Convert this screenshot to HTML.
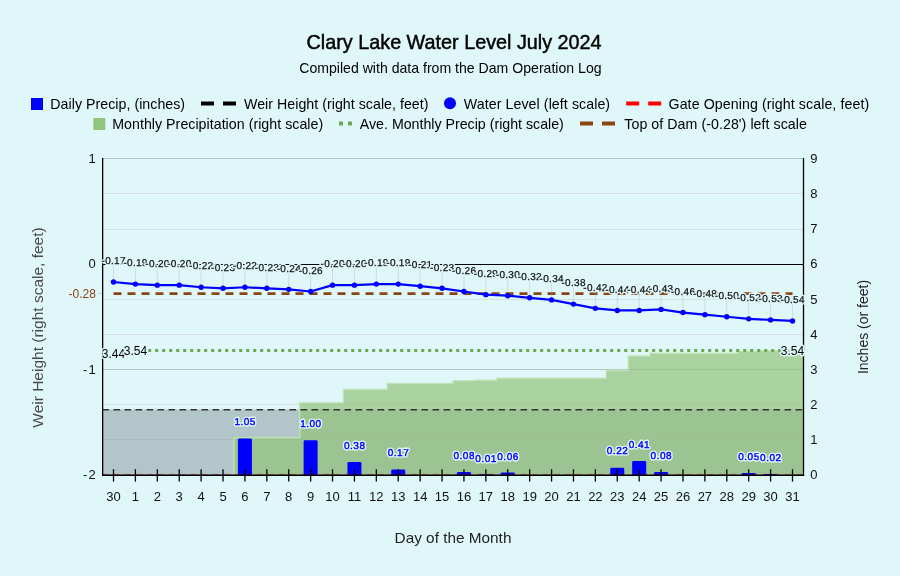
<!DOCTYPE html>
<html><head><meta charset="utf-8"><title>Clary Lake Water Level July 2024</title>
<style>html,body{margin:0;padding:0;background:#e0f7fa;}body{width:900px;height:576px;overflow:hidden;}svg{display:block;position:absolute;left:0;top:0;will-change:transform;font-family:"Liberation Sans",sans-serif;}</style>
</head><body>
<svg width="900" height="576" viewBox="0 0 900 576">
<rect x="0" y="0" width="900" height="576" fill="#e0f7fa"/>
<text x="454.1" y="48.5" text-anchor="middle" font-size="19.8" fill="#000" stroke="#000" stroke-width="0.45">Clary Lake Water Level July 2024</text>
<text x="450.4" y="72.5" text-anchor="middle" font-size="14.1" fill="#000">Compiled with data from the Dam Operation Log</text>
<rect x="31" y="98" width="12" height="12" fill="#0000ff"/>
<text x="50.3" y="108.5" font-size="14.2" fill="#000" textLength="134.8" lengthAdjust="spacing">Daily Precip, (inches)</text>
<path d="M201 103.4H214M223 103.4H236" stroke="#000" stroke-width="4" fill="none"/>
<text x="244.0" y="108.5" font-size="14.2" fill="#000" textLength="184.5" lengthAdjust="spacing">Weir Height (right scale, feet)</text>
<circle cx="450" cy="103.3" r="6" fill="#0000ff"/>
<text x="463.8" y="108.5" font-size="14.2" fill="#000" textLength="146.3" lengthAdjust="spacing">Water Level (left scale)</text>
<path d="M626.2 103.4H639.2M648.2 103.4H661.2" stroke="#ff0000" stroke-width="4" fill="none"/>
<text x="668.5" y="108.5" font-size="14.2" fill="#000" textLength="200.7" lengthAdjust="spacing">Gate Opening (right scale, feet)</text>
<rect x="93.3" y="118" width="12" height="12" fill="#93c47d"/>
<text x="112.2" y="128.5" font-size="14.2" fill="#000" textLength="211.0" lengthAdjust="spacing">Monthly Precipitation (right scale)</text>
<path d="M339 123.4H343M348 123.4H352" stroke="#6aa84f" stroke-width="4" fill="none"/>
<text x="359.8" y="128.5" font-size="14.2" fill="#000" textLength="204.0" lengthAdjust="spacing">Ave. Monthly Precip (right scale)</text>
<path d="M580 123.4H593M602 123.4H615" stroke="#8b4513" stroke-width="4" fill="none"/>
<text x="624.3" y="128.5" font-size="14.2" fill="#000" textLength="182.6" lengthAdjust="spacing">Top of Dam (-0.28') left scale</text>
<line x1="102.5" y1="474.50" x2="803.5" y2="474.50" stroke="#b0c4c8" stroke-width="1"/>
<line x1="102.5" y1="439.50" x2="803.5" y2="439.50" stroke="#d5dfe1" stroke-width="1"/>
<line x1="102.5" y1="404.50" x2="803.5" y2="404.50" stroke="#d5dfe1" stroke-width="1"/>
<line x1="102.5" y1="369.50" x2="803.5" y2="369.50" stroke="#b0c4c8" stroke-width="1"/>
<line x1="102.5" y1="334.50" x2="803.5" y2="334.50" stroke="#d5dfe1" stroke-width="1"/>
<line x1="102.5" y1="299.50" x2="803.5" y2="299.50" stroke="#d5dfe1" stroke-width="1"/>
<line x1="102.5" y1="264.50" x2="803.5" y2="264.50" stroke="#b0c4c8" stroke-width="1"/>
<line x1="102.5" y1="229.50" x2="803.5" y2="229.50" stroke="#d5dfe1" stroke-width="1"/>
<line x1="102.5" y1="193.50" x2="803.5" y2="193.50" stroke="#d5dfe1" stroke-width="1"/>
<line x1="102.5" y1="158.50" x2="803.5" y2="158.50" stroke="#b0c4c8" stroke-width="1"/>
<rect x="102.5" y="409.4" width="700.9" height="65.3" fill="#84959a" fill-opacity="0.5"/>
<path d="M102.55 474.70 L102.55 474.70 L124.45 474.70 L124.45 474.70 L146.36 474.70 L146.36 474.70 L168.26 474.70 L168.26 474.70 L190.16 474.70 L190.16 474.70 L212.07 474.70 L212.07 474.70 L233.97 474.70 L233.97 437.84 L255.87 437.84 L255.87 437.84 L277.78 437.84 L277.78 437.84 L299.68 437.84 L299.68 402.75 L321.58 402.75 L321.58 402.75 L343.48 402.75 L343.48 389.41 L365.39 389.41 L365.39 389.41 L387.29 389.41 L387.29 383.44 L409.19 383.44 L409.19 383.44 L431.10 383.44 L431.10 383.44 L453.00 383.44 L453.00 380.63 L474.90 380.63 L474.90 380.28 L496.81 380.28 L496.81 378.18 L518.71 378.18 L518.71 378.18 L540.61 378.18 L540.61 378.18 L562.52 378.18 L562.52 378.18 L584.42 378.18 L584.42 378.18 L606.32 378.18 L606.32 370.45 L628.23 370.45 L628.23 356.06 L650.13 356.06 L650.13 353.25 L672.03 353.25 L672.03 353.25 L693.93 353.25 L693.93 353.25 L715.84 353.25 L715.84 353.25 L737.74 353.25 L737.74 351.50 L759.64 351.50 L759.64 350.80 L781.55 350.80 L781.55 350.80 L803.45 350.80 L803.45 474.70 Z" fill="#93c47d" fill-opacity="0.72"/>
<path d="M233.97 474.70 L233.97 437.84 L255.87 437.84 L255.87 437.84 L277.78 437.84 L277.78 437.84 L299.68 437.84 L299.68 402.75 L321.58 402.75 L321.58 402.75 L343.48 402.75 L343.48 389.41 L365.39 389.41 L365.39 389.41 L387.29 389.41 L387.29 383.44 L409.19 383.44 L409.19 383.44 L431.10 383.44 L431.10 383.44 L453.00 383.44 L453.00 380.63 L474.90 380.63 L474.90 380.28 L496.81 380.28 L496.81 378.18 L518.71 378.18 L518.71 378.18 L540.61 378.18 L540.61 378.18 L562.52 378.18 L562.52 378.18 L584.42 378.18 L584.42 378.18 L606.32 378.18 L606.32 370.45 L628.23 370.45 L628.23 356.06 L650.13 356.06 L650.13 353.25 L672.03 353.25 L672.03 353.25 L693.93 353.25 L693.93 353.25 L715.84 353.25 L715.84 353.25 L737.74 353.25 L737.74 351.50 L759.64 351.50 L759.64 350.80 L781.55 350.80 L781.55 350.80 L803.45 350.80" fill="none" stroke="#bfe4b4" stroke-opacity="0.85" stroke-width="1.5" stroke-linejoin="round"/>
<path d="M237.92 475.20V439.84q0 -1.30 1.30 -1.30h11.40q1.30 0 1.30 1.30V475.20z" fill="#0000ff"/>
<path d="M303.63 475.20V441.60q0 -1.30 1.30 -1.30h11.40q1.30 0 1.30 1.30V475.20z" fill="#0000ff"/>
<path d="M347.44 475.20V463.36q0 -1.30 1.30 -1.30h11.40q1.30 0 1.30 1.30V475.20z" fill="#0000ff"/>
<path d="M391.24 475.20V470.73q0 -1.30 1.30 -1.30h11.40q1.30 0 1.30 1.30V475.20z" fill="#0000ff"/>
<path d="M456.95 475.20V473.19q0 -1.30 1.30 -1.30h11.40q1.30 0 1.30 1.30V475.20z" fill="#0000ff"/>
<path d="M478.85 475.20V474.52q0 -0.18 0.18 -0.18h13.65q0.18 0 0.18 0.18V475.20z" fill="#0000ff"/>
<path d="M500.76 475.20V473.65q0 -1.05 1.05 -1.05h11.89q1.05 0 1.05 1.05V475.20z" fill="#0000ff"/>
<path d="M610.27 475.20V468.98q0 -1.30 1.30 -1.30h11.40q1.30 0 1.30 1.30V475.20z" fill="#0000ff"/>
<path d="M632.18 475.20V462.31q0 -1.30 1.30 -1.30h11.40q1.30 0 1.30 1.30V475.20z" fill="#0000ff"/>
<path d="M654.08 475.20V473.19q0 -1.30 1.30 -1.30h11.40q1.30 0 1.30 1.30V475.20z" fill="#0000ff"/>
<path d="M741.69 475.20V473.82q0 -0.88 0.88 -0.88h12.25q0.88 0 0.88 0.88V475.20z" fill="#0000ff"/>
<path d="M763.60 475.20V474.35q0 -0.35 0.35 -0.35h13.30q0.35 0 0.35 0.35V475.20z" fill="#0000ff"/>
<path d="M102.95 474.35H803.45" stroke="#ff0000" stroke-opacity="0.32" stroke-width="1.2" stroke-dasharray="6 5" fill="none"/>
<path d="M102.5 409.8H803.5" stroke="#333" stroke-width="1.6" stroke-dasharray="6.6 4.4" fill="none"/>
<line x1="102.5" y1="264.5" x2="803.5" y2="264.5" stroke="#000" stroke-width="1"/>
<path d="M113.50 293.7H792.50" stroke="#8b4513" stroke-width="2.8" stroke-dasharray="8 6" fill="none"/>
<path d="M113.50 353.96 L135.40 350.45 L792.50 350.45" stroke="#6aa84f" stroke-width="3" stroke-dasharray="3 4" fill="none"/>
<line x1="113.50" y1="282.00" x2="113.50" y2="265.00" stroke="#999" stroke-opacity="0.28" stroke-width="1"/>
<line x1="135.40" y1="284.11" x2="135.40" y2="267.11" stroke="#999" stroke-opacity="0.28" stroke-width="1"/>
<line x1="157.31" y1="285.16" x2="157.31" y2="268.16" stroke="#999" stroke-opacity="0.28" stroke-width="1"/>
<line x1="179.21" y1="285.16" x2="179.21" y2="268.16" stroke="#999" stroke-opacity="0.28" stroke-width="1"/>
<line x1="201.11" y1="287.27" x2="201.11" y2="270.27" stroke="#999" stroke-opacity="0.28" stroke-width="1"/>
<line x1="223.02" y1="288.32" x2="223.02" y2="271.32" stroke="#999" stroke-opacity="0.28" stroke-width="1"/>
<line x1="244.92" y1="287.27" x2="244.92" y2="270.27" stroke="#999" stroke-opacity="0.28" stroke-width="1"/>
<line x1="266.82" y1="288.32" x2="266.82" y2="271.32" stroke="#999" stroke-opacity="0.28" stroke-width="1"/>
<line x1="288.73" y1="289.37" x2="288.73" y2="272.37" stroke="#999" stroke-opacity="0.28" stroke-width="1"/>
<line x1="310.63" y1="291.48" x2="310.63" y2="274.48" stroke="#999" stroke-opacity="0.28" stroke-width="1"/>
<line x1="332.53" y1="285.16" x2="332.53" y2="268.16" stroke="#999" stroke-opacity="0.28" stroke-width="1"/>
<line x1="354.44" y1="285.16" x2="354.44" y2="268.16" stroke="#999" stroke-opacity="0.28" stroke-width="1"/>
<line x1="376.34" y1="284.11" x2="376.34" y2="267.11" stroke="#999" stroke-opacity="0.28" stroke-width="1"/>
<line x1="398.24" y1="284.11" x2="398.24" y2="267.11" stroke="#999" stroke-opacity="0.28" stroke-width="1"/>
<line x1="420.15" y1="286.21" x2="420.15" y2="269.21" stroke="#999" stroke-opacity="0.28" stroke-width="1"/>
<line x1="442.05" y1="288.32" x2="442.05" y2="271.32" stroke="#999" stroke-opacity="0.28" stroke-width="1"/>
<line x1="463.95" y1="291.48" x2="463.95" y2="274.48" stroke="#999" stroke-opacity="0.28" stroke-width="1"/>
<line x1="485.85" y1="294.64" x2="485.85" y2="277.64" stroke="#999" stroke-opacity="0.28" stroke-width="1"/>
<line x1="507.76" y1="295.69" x2="507.76" y2="278.69" stroke="#999" stroke-opacity="0.28" stroke-width="1"/>
<line x1="529.66" y1="297.80" x2="529.66" y2="280.80" stroke="#999" stroke-opacity="0.28" stroke-width="1"/>
<line x1="551.56" y1="299.90" x2="551.56" y2="282.90" stroke="#999" stroke-opacity="0.28" stroke-width="1"/>
<line x1="573.47" y1="304.11" x2="573.47" y2="287.11" stroke="#999" stroke-opacity="0.28" stroke-width="1"/>
<line x1="595.37" y1="308.33" x2="595.37" y2="291.33" stroke="#999" stroke-opacity="0.28" stroke-width="1"/>
<line x1="617.27" y1="310.43" x2="617.27" y2="293.43" stroke="#999" stroke-opacity="0.28" stroke-width="1"/>
<line x1="639.18" y1="310.43" x2="639.18" y2="293.43" stroke="#999" stroke-opacity="0.28" stroke-width="1"/>
<line x1="661.08" y1="309.38" x2="661.08" y2="292.38" stroke="#999" stroke-opacity="0.28" stroke-width="1"/>
<line x1="682.98" y1="312.54" x2="682.98" y2="295.54" stroke="#999" stroke-opacity="0.28" stroke-width="1"/>
<line x1="704.89" y1="314.64" x2="704.89" y2="297.64" stroke="#999" stroke-opacity="0.28" stroke-width="1"/>
<line x1="726.79" y1="316.75" x2="726.79" y2="299.75" stroke="#999" stroke-opacity="0.28" stroke-width="1"/>
<line x1="748.69" y1="318.86" x2="748.69" y2="301.86" stroke="#999" stroke-opacity="0.28" stroke-width="1"/>
<line x1="770.60" y1="319.91" x2="770.60" y2="302.91" stroke="#999" stroke-opacity="0.28" stroke-width="1"/>
<line x1="792.50" y1="320.96" x2="792.50" y2="303.96" stroke="#999" stroke-opacity="0.28" stroke-width="1"/>
<polyline points="113.50,282.00 135.40,284.11 157.31,285.16 179.21,285.16 201.11,287.27 223.02,288.32 244.92,287.27 266.82,288.32 288.73,289.37 310.63,291.48 332.53,285.16 354.44,285.16 376.34,284.11 398.24,284.11 420.15,286.21 442.05,288.32 463.95,291.48 485.85,294.64 507.76,295.69 529.66,297.80 551.56,299.90 573.47,304.11 595.37,308.33 617.27,310.43 639.18,310.43 661.08,309.38 682.98,312.54 704.89,314.64 726.79,316.75 748.69,318.86 770.60,319.91 792.50,320.96" fill="none" stroke="#0000ff" stroke-width="2.2" stroke-linejoin="round"/>
<circle cx="113.50" cy="282.00" r="2.7" fill="#0000ff"/>
<circle cx="135.40" cy="284.11" r="2.7" fill="#0000ff"/>
<circle cx="157.31" cy="285.16" r="2.7" fill="#0000ff"/>
<circle cx="179.21" cy="285.16" r="2.7" fill="#0000ff"/>
<circle cx="201.11" cy="287.27" r="2.7" fill="#0000ff"/>
<circle cx="223.02" cy="288.32" r="2.7" fill="#0000ff"/>
<circle cx="244.92" cy="287.27" r="2.7" fill="#0000ff"/>
<circle cx="266.82" cy="288.32" r="2.7" fill="#0000ff"/>
<circle cx="288.73" cy="289.37" r="2.7" fill="#0000ff"/>
<circle cx="310.63" cy="291.48" r="2.7" fill="#0000ff"/>
<circle cx="332.53" cy="285.16" r="2.7" fill="#0000ff"/>
<circle cx="354.44" cy="285.16" r="2.7" fill="#0000ff"/>
<circle cx="376.34" cy="284.11" r="2.7" fill="#0000ff"/>
<circle cx="398.24" cy="284.11" r="2.7" fill="#0000ff"/>
<circle cx="420.15" cy="286.21" r="2.7" fill="#0000ff"/>
<circle cx="442.05" cy="288.32" r="2.7" fill="#0000ff"/>
<circle cx="463.95" cy="291.48" r="2.7" fill="#0000ff"/>
<circle cx="485.85" cy="294.64" r="2.7" fill="#0000ff"/>
<circle cx="507.76" cy="295.69" r="2.7" fill="#0000ff"/>
<circle cx="529.66" cy="297.80" r="2.7" fill="#0000ff"/>
<circle cx="551.56" cy="299.90" r="2.7" fill="#0000ff"/>
<circle cx="573.47" cy="304.11" r="2.7" fill="#0000ff"/>
<circle cx="595.37" cy="308.33" r="2.7" fill="#0000ff"/>
<circle cx="617.27" cy="310.43" r="2.7" fill="#0000ff"/>
<circle cx="639.18" cy="310.43" r="2.7" fill="#0000ff"/>
<circle cx="661.08" cy="309.38" r="2.7" fill="#0000ff"/>
<circle cx="682.98" cy="312.54" r="2.7" fill="#0000ff"/>
<circle cx="704.89" cy="314.64" r="2.7" fill="#0000ff"/>
<circle cx="726.79" cy="316.75" r="2.7" fill="#0000ff"/>
<circle cx="748.69" cy="318.86" r="2.7" fill="#0000ff"/>
<circle cx="770.60" cy="319.91" r="2.7" fill="#0000ff"/>
<circle cx="792.50" cy="320.96" r="2.7" fill="#0000ff"/>
<line x1="102.65" y1="158.00" x2="102.65" y2="475.90" stroke="#000" stroke-width="1.3"/>
<line x1="803.50" y1="158.00" x2="803.50" y2="475.90" stroke="#000" stroke-width="1.3"/>
<line x1="102.00" y1="475.25" x2="804.15" y2="475.25" stroke="#000" stroke-width="1.3"/>
<line x1="113.50" y1="469.2" x2="113.50" y2="481.6" stroke="#000" stroke-width="1.3"/>
<line x1="135.40" y1="469.2" x2="135.40" y2="481.6" stroke="#000" stroke-width="1.3"/>
<line x1="157.31" y1="469.2" x2="157.31" y2="481.6" stroke="#000" stroke-width="1.3"/>
<line x1="179.21" y1="469.2" x2="179.21" y2="481.6" stroke="#000" stroke-width="1.3"/>
<line x1="201.11" y1="469.2" x2="201.11" y2="481.6" stroke="#000" stroke-width="1.3"/>
<line x1="223.02" y1="469.2" x2="223.02" y2="481.6" stroke="#000" stroke-width="1.3"/>
<line x1="244.92" y1="469.2" x2="244.92" y2="481.6" stroke="#000" stroke-width="1.3"/>
<line x1="266.82" y1="469.2" x2="266.82" y2="481.6" stroke="#000" stroke-width="1.3"/>
<line x1="288.73" y1="469.2" x2="288.73" y2="481.6" stroke="#000" stroke-width="1.3"/>
<line x1="310.63" y1="469.2" x2="310.63" y2="481.6" stroke="#000" stroke-width="1.3"/>
<line x1="332.53" y1="469.2" x2="332.53" y2="481.6" stroke="#000" stroke-width="1.3"/>
<line x1="354.44" y1="469.2" x2="354.44" y2="481.6" stroke="#000" stroke-width="1.3"/>
<line x1="376.34" y1="469.2" x2="376.34" y2="481.6" stroke="#000" stroke-width="1.3"/>
<line x1="398.24" y1="469.2" x2="398.24" y2="481.6" stroke="#000" stroke-width="1.3"/>
<line x1="420.15" y1="469.2" x2="420.15" y2="481.6" stroke="#000" stroke-width="1.3"/>
<line x1="442.05" y1="469.2" x2="442.05" y2="481.6" stroke="#000" stroke-width="1.3"/>
<line x1="463.95" y1="469.2" x2="463.95" y2="481.6" stroke="#000" stroke-width="1.3"/>
<line x1="485.85" y1="469.2" x2="485.85" y2="481.6" stroke="#000" stroke-width="1.3"/>
<line x1="507.76" y1="469.2" x2="507.76" y2="481.6" stroke="#000" stroke-width="1.3"/>
<line x1="529.66" y1="469.2" x2="529.66" y2="481.6" stroke="#000" stroke-width="1.3"/>
<line x1="551.56" y1="469.2" x2="551.56" y2="481.6" stroke="#000" stroke-width="1.3"/>
<line x1="573.47" y1="469.2" x2="573.47" y2="481.6" stroke="#000" stroke-width="1.3"/>
<line x1="595.37" y1="469.2" x2="595.37" y2="481.6" stroke="#000" stroke-width="1.3"/>
<line x1="617.27" y1="469.2" x2="617.27" y2="481.6" stroke="#000" stroke-width="1.3"/>
<line x1="639.18" y1="469.2" x2="639.18" y2="481.6" stroke="#000" stroke-width="1.3"/>
<line x1="661.08" y1="469.2" x2="661.08" y2="481.6" stroke="#000" stroke-width="1.3"/>
<line x1="682.98" y1="469.2" x2="682.98" y2="481.6" stroke="#000" stroke-width="1.3"/>
<line x1="704.89" y1="469.2" x2="704.89" y2="481.6" stroke="#000" stroke-width="1.3"/>
<line x1="726.79" y1="469.2" x2="726.79" y2="481.6" stroke="#000" stroke-width="1.3"/>
<line x1="748.69" y1="469.2" x2="748.69" y2="481.6" stroke="#000" stroke-width="1.3"/>
<line x1="770.60" y1="469.2" x2="770.60" y2="481.6" stroke="#000" stroke-width="1.3"/>
<line x1="792.50" y1="469.2" x2="792.50" y2="481.6" stroke="#000" stroke-width="1.3"/>
<text transform="translate(113.50,264.00) rotate(0.05)" text-anchor="middle" font-size="10" font-weight="normal" textLength="24" lengthAdjust="spacing" fill="none" stroke="#e0f7fa" stroke-width="3" stroke-linejoin="round">-0.17</text>
<text transform="translate(113.50,264.00) rotate(0.05)" text-anchor="middle" font-size="10" font-weight="normal" textLength="24" lengthAdjust="spacing" fill="#111" stroke="#111" stroke-width="0.25">-0.17</text>
<text transform="translate(135.40,266.00) rotate(0.05)" text-anchor="middle" font-size="10" font-weight="normal" textLength="24" lengthAdjust="spacing" fill="none" stroke="#e0f7fa" stroke-width="3" stroke-linejoin="round">-0.19</text>
<text transform="translate(135.40,266.00) rotate(0.05)" text-anchor="middle" font-size="10" font-weight="normal" textLength="24" lengthAdjust="spacing" fill="#111" stroke="#111" stroke-width="0.25">-0.19</text>
<text transform="translate(157.31,267.00) rotate(0.05)" text-anchor="middle" font-size="10" font-weight="normal" textLength="24" lengthAdjust="spacing" fill="none" stroke="#e0f7fa" stroke-width="3" stroke-linejoin="round">-0.20</text>
<text transform="translate(157.31,267.00) rotate(0.05)" text-anchor="middle" font-size="10" font-weight="normal" textLength="24" lengthAdjust="spacing" fill="#111" stroke="#111" stroke-width="0.25">-0.20</text>
<text transform="translate(179.21,267.00) rotate(0.05)" text-anchor="middle" font-size="10" font-weight="normal" textLength="24" lengthAdjust="spacing" fill="none" stroke="#e0f7fa" stroke-width="3" stroke-linejoin="round">-0.20</text>
<text transform="translate(179.21,267.00) rotate(0.05)" text-anchor="middle" font-size="10" font-weight="normal" textLength="24" lengthAdjust="spacing" fill="#111" stroke="#111" stroke-width="0.25">-0.20</text>
<text transform="translate(201.11,269.00) rotate(0.05)" text-anchor="middle" font-size="10" font-weight="normal" textLength="24" lengthAdjust="spacing" fill="none" stroke="#e0f7fa" stroke-width="3" stroke-linejoin="round">-0.22</text>
<text transform="translate(201.11,269.00) rotate(0.05)" text-anchor="middle" font-size="10" font-weight="normal" textLength="24" lengthAdjust="spacing" fill="#111" stroke="#111" stroke-width="0.25">-0.22</text>
<text transform="translate(223.02,271.00) rotate(0.05)" text-anchor="middle" font-size="10" font-weight="normal" textLength="24" lengthAdjust="spacing" fill="none" stroke="#e0f7fa" stroke-width="3" stroke-linejoin="round">-0.23</text>
<text transform="translate(223.02,271.00) rotate(0.05)" text-anchor="middle" font-size="10" font-weight="normal" textLength="24" lengthAdjust="spacing" fill="#111" stroke="#111" stroke-width="0.25">-0.23</text>
<text transform="translate(244.92,269.00) rotate(0.05)" text-anchor="middle" font-size="10" font-weight="normal" textLength="24" lengthAdjust="spacing" fill="none" stroke="#e0f7fa" stroke-width="3" stroke-linejoin="round">-0.22</text>
<text transform="translate(244.92,269.00) rotate(0.05)" text-anchor="middle" font-size="10" font-weight="normal" textLength="24" lengthAdjust="spacing" fill="#111" stroke="#111" stroke-width="0.25">-0.22</text>
<text transform="translate(266.82,271.00) rotate(0.05)" text-anchor="middle" font-size="10" font-weight="normal" textLength="24" lengthAdjust="spacing" fill="none" stroke="#e0f7fa" stroke-width="3" stroke-linejoin="round">-0.23</text>
<text transform="translate(266.82,271.00) rotate(0.05)" text-anchor="middle" font-size="10" font-weight="normal" textLength="24" lengthAdjust="spacing" fill="#111" stroke="#111" stroke-width="0.25">-0.23</text>
<text transform="translate(288.73,272.00) rotate(0.05)" text-anchor="middle" font-size="10" font-weight="normal" textLength="24" lengthAdjust="spacing" fill="none" stroke="#e0f7fa" stroke-width="3" stroke-linejoin="round">-0.24</text>
<text transform="translate(288.73,272.00) rotate(0.05)" text-anchor="middle" font-size="10" font-weight="normal" textLength="24" lengthAdjust="spacing" fill="#111" stroke="#111" stroke-width="0.25">-0.24</text>
<text transform="translate(310.63,274.00) rotate(0.05)" text-anchor="middle" font-size="10" font-weight="normal" textLength="24" lengthAdjust="spacing" fill="none" stroke="#e0f7fa" stroke-width="3" stroke-linejoin="round">-0.26</text>
<text transform="translate(310.63,274.00) rotate(0.05)" text-anchor="middle" font-size="10" font-weight="normal" textLength="24" lengthAdjust="spacing" fill="#111" stroke="#111" stroke-width="0.25">-0.26</text>
<text transform="translate(332.53,267.00) rotate(0.05)" text-anchor="middle" font-size="10" font-weight="normal" textLength="24" lengthAdjust="spacing" fill="none" stroke="#e0f7fa" stroke-width="3" stroke-linejoin="round">-0.20</text>
<text transform="translate(332.53,267.00) rotate(0.05)" text-anchor="middle" font-size="10" font-weight="normal" textLength="24" lengthAdjust="spacing" fill="#111" stroke="#111" stroke-width="0.25">-0.20</text>
<text transform="translate(354.44,267.00) rotate(0.05)" text-anchor="middle" font-size="10" font-weight="normal" textLength="24" lengthAdjust="spacing" fill="none" stroke="#e0f7fa" stroke-width="3" stroke-linejoin="round">-0.20</text>
<text transform="translate(354.44,267.00) rotate(0.05)" text-anchor="middle" font-size="10" font-weight="normal" textLength="24" lengthAdjust="spacing" fill="#111" stroke="#111" stroke-width="0.25">-0.20</text>
<text transform="translate(376.34,266.00) rotate(0.05)" text-anchor="middle" font-size="10" font-weight="normal" textLength="24" lengthAdjust="spacing" fill="none" stroke="#e0f7fa" stroke-width="3" stroke-linejoin="round">-0.19</text>
<text transform="translate(376.34,266.00) rotate(0.05)" text-anchor="middle" font-size="10" font-weight="normal" textLength="24" lengthAdjust="spacing" fill="#111" stroke="#111" stroke-width="0.25">-0.19</text>
<text transform="translate(398.24,266.00) rotate(0.05)" text-anchor="middle" font-size="10" font-weight="normal" textLength="24" lengthAdjust="spacing" fill="none" stroke="#e0f7fa" stroke-width="3" stroke-linejoin="round">-0.19</text>
<text transform="translate(398.24,266.00) rotate(0.05)" text-anchor="middle" font-size="10" font-weight="normal" textLength="24" lengthAdjust="spacing" fill="#111" stroke="#111" stroke-width="0.25">-0.19</text>
<text transform="translate(420.15,268.00) rotate(0.05)" text-anchor="middle" font-size="10" font-weight="normal" textLength="24" lengthAdjust="spacing" fill="none" stroke="#e0f7fa" stroke-width="3" stroke-linejoin="round">-0.21</text>
<text transform="translate(420.15,268.00) rotate(0.05)" text-anchor="middle" font-size="10" font-weight="normal" textLength="24" lengthAdjust="spacing" fill="#111" stroke="#111" stroke-width="0.25">-0.21</text>
<text transform="translate(442.05,271.00) rotate(0.05)" text-anchor="middle" font-size="10" font-weight="normal" textLength="24" lengthAdjust="spacing" fill="none" stroke="#e0f7fa" stroke-width="3" stroke-linejoin="round">-0.23</text>
<text transform="translate(442.05,271.00) rotate(0.05)" text-anchor="middle" font-size="10" font-weight="normal" textLength="24" lengthAdjust="spacing" fill="#111" stroke="#111" stroke-width="0.25">-0.23</text>
<text transform="translate(463.95,274.00) rotate(0.05)" text-anchor="middle" font-size="10" font-weight="normal" textLength="24" lengthAdjust="spacing" fill="none" stroke="#e0f7fa" stroke-width="3" stroke-linejoin="round">-0.26</text>
<text transform="translate(463.95,274.00) rotate(0.05)" text-anchor="middle" font-size="10" font-weight="normal" textLength="24" lengthAdjust="spacing" fill="#111" stroke="#111" stroke-width="0.25">-0.26</text>
<text transform="translate(485.85,277.00) rotate(0.05)" text-anchor="middle" font-size="10" font-weight="normal" textLength="24" lengthAdjust="spacing" fill="none" stroke="#e0f7fa" stroke-width="3" stroke-linejoin="round">-0.29</text>
<text transform="translate(485.85,277.00) rotate(0.05)" text-anchor="middle" font-size="10" font-weight="normal" textLength="24" lengthAdjust="spacing" fill="#111" stroke="#111" stroke-width="0.25">-0.29</text>
<text transform="translate(507.76,278.00) rotate(0.05)" text-anchor="middle" font-size="10" font-weight="normal" textLength="24" lengthAdjust="spacing" fill="none" stroke="#e0f7fa" stroke-width="3" stroke-linejoin="round">-0.30</text>
<text transform="translate(507.76,278.00) rotate(0.05)" text-anchor="middle" font-size="10" font-weight="normal" textLength="24" lengthAdjust="spacing" fill="#111" stroke="#111" stroke-width="0.25">-0.30</text>
<text transform="translate(529.66,280.00) rotate(0.05)" text-anchor="middle" font-size="10" font-weight="normal" textLength="24" lengthAdjust="spacing" fill="none" stroke="#e0f7fa" stroke-width="3" stroke-linejoin="round">-0.32</text>
<text transform="translate(529.66,280.00) rotate(0.05)" text-anchor="middle" font-size="10" font-weight="normal" textLength="24" lengthAdjust="spacing" fill="#111" stroke="#111" stroke-width="0.25">-0.32</text>
<text transform="translate(551.56,282.00) rotate(0.05)" text-anchor="middle" font-size="10" font-weight="normal" textLength="24" lengthAdjust="spacing" fill="none" stroke="#e0f7fa" stroke-width="3" stroke-linejoin="round">-0.34</text>
<text transform="translate(551.56,282.00) rotate(0.05)" text-anchor="middle" font-size="10" font-weight="normal" textLength="24" lengthAdjust="spacing" fill="#111" stroke="#111" stroke-width="0.25">-0.34</text>
<text transform="translate(573.47,286.00) rotate(0.05)" text-anchor="middle" font-size="10" font-weight="normal" textLength="24" lengthAdjust="spacing" fill="none" stroke="#e0f7fa" stroke-width="3" stroke-linejoin="round">-0.38</text>
<text transform="translate(573.47,286.00) rotate(0.05)" text-anchor="middle" font-size="10" font-weight="normal" textLength="24" lengthAdjust="spacing" fill="#111" stroke="#111" stroke-width="0.25">-0.38</text>
<text transform="translate(595.37,291.00) rotate(0.05)" text-anchor="middle" font-size="10" font-weight="normal" textLength="24" lengthAdjust="spacing" fill="none" stroke="#e0f7fa" stroke-width="3" stroke-linejoin="round">-0.42</text>
<text transform="translate(595.37,291.00) rotate(0.05)" text-anchor="middle" font-size="10" font-weight="normal" textLength="24" lengthAdjust="spacing" fill="#111" stroke="#111" stroke-width="0.25">-0.42</text>
<text transform="translate(617.27,293.00) rotate(0.05)" text-anchor="middle" font-size="10" font-weight="normal" textLength="24" lengthAdjust="spacing" fill="none" stroke="#e0f7fa" stroke-width="3" stroke-linejoin="round">-0.44</text>
<text transform="translate(617.27,293.00) rotate(0.05)" text-anchor="middle" font-size="10" font-weight="normal" textLength="24" lengthAdjust="spacing" fill="#111" stroke="#111" stroke-width="0.25">-0.44</text>
<text transform="translate(639.18,293.00) rotate(0.05)" text-anchor="middle" font-size="10" font-weight="normal" textLength="24" lengthAdjust="spacing" fill="none" stroke="#e0f7fa" stroke-width="3" stroke-linejoin="round">-0.44</text>
<text transform="translate(639.18,293.00) rotate(0.05)" text-anchor="middle" font-size="10" font-weight="normal" textLength="24" lengthAdjust="spacing" fill="#111" stroke="#111" stroke-width="0.25">-0.44</text>
<text transform="translate(661.08,292.00) rotate(0.05)" text-anchor="middle" font-size="10" font-weight="normal" textLength="24" lengthAdjust="spacing" fill="none" stroke="#e0f7fa" stroke-width="3" stroke-linejoin="round">-0.43</text>
<text transform="translate(661.08,292.00) rotate(0.05)" text-anchor="middle" font-size="10" font-weight="normal" textLength="24" lengthAdjust="spacing" fill="#111" stroke="#111" stroke-width="0.25">-0.43</text>
<text transform="translate(682.98,295.00) rotate(0.05)" text-anchor="middle" font-size="10" font-weight="normal" textLength="24" lengthAdjust="spacing" fill="none" stroke="#e0f7fa" stroke-width="3" stroke-linejoin="round">-0.46</text>
<text transform="translate(682.98,295.00) rotate(0.05)" text-anchor="middle" font-size="10" font-weight="normal" textLength="24" lengthAdjust="spacing" fill="#111" stroke="#111" stroke-width="0.25">-0.46</text>
<text transform="translate(704.89,297.00) rotate(0.05)" text-anchor="middle" font-size="10" font-weight="normal" textLength="24" lengthAdjust="spacing" fill="none" stroke="#e0f7fa" stroke-width="3" stroke-linejoin="round">-0.48</text>
<text transform="translate(704.89,297.00) rotate(0.05)" text-anchor="middle" font-size="10" font-weight="normal" textLength="24" lengthAdjust="spacing" fill="#111" stroke="#111" stroke-width="0.25">-0.48</text>
<text transform="translate(726.79,299.00) rotate(0.05)" text-anchor="middle" font-size="10" font-weight="normal" textLength="24" lengthAdjust="spacing" fill="none" stroke="#e0f7fa" stroke-width="3" stroke-linejoin="round">-0.50</text>
<text transform="translate(726.79,299.00) rotate(0.05)" text-anchor="middle" font-size="10" font-weight="normal" textLength="24" lengthAdjust="spacing" fill="#111" stroke="#111" stroke-width="0.25">-0.50</text>
<text transform="translate(748.69,301.00) rotate(0.05)" text-anchor="middle" font-size="10" font-weight="normal" textLength="24" lengthAdjust="spacing" fill="none" stroke="#e0f7fa" stroke-width="3" stroke-linejoin="round">-0.52</text>
<text transform="translate(748.69,301.00) rotate(0.05)" text-anchor="middle" font-size="10" font-weight="normal" textLength="24" lengthAdjust="spacing" fill="#111" stroke="#111" stroke-width="0.25">-0.52</text>
<text transform="translate(770.60,302.00) rotate(0.05)" text-anchor="middle" font-size="10" font-weight="normal" textLength="24" lengthAdjust="spacing" fill="none" stroke="#e0f7fa" stroke-width="3" stroke-linejoin="round">-0.53</text>
<text transform="translate(770.60,302.00) rotate(0.05)" text-anchor="middle" font-size="10" font-weight="normal" textLength="24" lengthAdjust="spacing" fill="#111" stroke="#111" stroke-width="0.25">-0.53</text>
<text transform="translate(792.50,303.00) rotate(0.05)" text-anchor="middle" font-size="10" font-weight="normal" textLength="24" lengthAdjust="spacing" fill="none" stroke="#e0f7fa" stroke-width="3" stroke-linejoin="round">-0.54</text>
<text transform="translate(792.50,303.00) rotate(0.05)" text-anchor="middle" font-size="10" font-weight="normal" textLength="24" lengthAdjust="spacing" fill="#111" stroke="#111" stroke-width="0.25">-0.54</text>
<text transform="translate(113.50,358.36)" text-anchor="middle" font-size="12" font-weight="normal" fill="none" stroke="#e0f7fa" stroke-width="3" stroke-linejoin="round">3.44</text>
<text transform="translate(113.50,358.36)" text-anchor="middle" font-size="12" font-weight="normal" fill="#000">3.44</text>
<text transform="translate(135.40,354.85)" text-anchor="middle" font-size="12" font-weight="normal" fill="none" stroke="#e0f7fa" stroke-width="3" stroke-linejoin="round">3.54</text>
<text transform="translate(135.40,354.85)" text-anchor="middle" font-size="12" font-weight="normal" fill="#000">3.54</text>
<text transform="translate(792.50,354.85)" text-anchor="middle" font-size="12" font-weight="normal" fill="none" stroke="#e0f7fa" stroke-width="3" stroke-linejoin="round">3.54</text>
<text transform="translate(792.50,354.85)" text-anchor="middle" font-size="12" font-weight="normal" fill="#000">3.54</text>
<text transform="translate(244.92,425.00) rotate(0.05)" text-anchor="middle" font-size="10" font-weight="normal" textLength="21" lengthAdjust="spacing" fill="none" stroke="#e0f7fa" stroke-width="3.2" stroke-linejoin="round">1.05</text>
<text transform="translate(244.92,425.00) rotate(0.05)" text-anchor="middle" font-size="10" font-weight="normal" textLength="21" lengthAdjust="spacing" fill="#0000ff" stroke="#0000ff" stroke-width="0.42">1.05</text>
<text transform="translate(310.63,427.00) rotate(0.05)" text-anchor="middle" font-size="10" font-weight="normal" textLength="21" lengthAdjust="spacing" fill="none" stroke="#e0f7fa" stroke-width="3.2" stroke-linejoin="round">1.00</text>
<text transform="translate(310.63,427.00) rotate(0.05)" text-anchor="middle" font-size="10" font-weight="normal" textLength="21" lengthAdjust="spacing" fill="#0000ff" stroke="#0000ff" stroke-width="0.42">1.00</text>
<text transform="translate(354.44,449.00) rotate(0.05)" text-anchor="middle" font-size="10" font-weight="normal" textLength="21" lengthAdjust="spacing" fill="none" stroke="#e0f7fa" stroke-width="3.2" stroke-linejoin="round">0.38</text>
<text transform="translate(354.44,449.00) rotate(0.05)" text-anchor="middle" font-size="10" font-weight="normal" textLength="21" lengthAdjust="spacing" fill="#0000ff" stroke="#0000ff" stroke-width="0.42">0.38</text>
<text transform="translate(398.24,456.00) rotate(0.05)" text-anchor="middle" font-size="10" font-weight="normal" textLength="21" lengthAdjust="spacing" fill="none" stroke="#e0f7fa" stroke-width="3.2" stroke-linejoin="round">0.17</text>
<text transform="translate(398.24,456.00) rotate(0.05)" text-anchor="middle" font-size="10" font-weight="normal" textLength="21" lengthAdjust="spacing" fill="#0000ff" stroke="#0000ff" stroke-width="0.42">0.17</text>
<text transform="translate(463.95,459.00) rotate(0.05)" text-anchor="middle" font-size="10" font-weight="normal" textLength="21" lengthAdjust="spacing" fill="none" stroke="#e0f7fa" stroke-width="3.2" stroke-linejoin="round">0.08</text>
<text transform="translate(463.95,459.00) rotate(0.05)" text-anchor="middle" font-size="10" font-weight="normal" textLength="21" lengthAdjust="spacing" fill="#0000ff" stroke="#0000ff" stroke-width="0.42">0.08</text>
<text transform="translate(485.85,462.00) rotate(0.05)" text-anchor="middle" font-size="10" font-weight="normal" textLength="21" lengthAdjust="spacing" fill="none" stroke="#e0f7fa" stroke-width="3.2" stroke-linejoin="round">0.01</text>
<text transform="translate(485.85,462.00) rotate(0.05)" text-anchor="middle" font-size="10" font-weight="normal" textLength="21" lengthAdjust="spacing" fill="#0000ff" stroke="#0000ff" stroke-width="0.42">0.01</text>
<text transform="translate(507.76,460.00) rotate(0.05)" text-anchor="middle" font-size="10" font-weight="normal" textLength="21" lengthAdjust="spacing" fill="none" stroke="#e0f7fa" stroke-width="3.2" stroke-linejoin="round">0.06</text>
<text transform="translate(507.76,460.00) rotate(0.05)" text-anchor="middle" font-size="10" font-weight="normal" textLength="21" lengthAdjust="spacing" fill="#0000ff" stroke="#0000ff" stroke-width="0.42">0.06</text>
<text transform="translate(617.27,454.00) rotate(0.05)" text-anchor="middle" font-size="10" font-weight="normal" textLength="21" lengthAdjust="spacing" fill="none" stroke="#e0f7fa" stroke-width="3.2" stroke-linejoin="round">0.22</text>
<text transform="translate(617.27,454.00) rotate(0.05)" text-anchor="middle" font-size="10" font-weight="normal" textLength="21" lengthAdjust="spacing" fill="#0000ff" stroke="#0000ff" stroke-width="0.42">0.22</text>
<text transform="translate(639.18,448.00) rotate(0.05)" text-anchor="middle" font-size="10" font-weight="normal" textLength="21" lengthAdjust="spacing" fill="none" stroke="#e0f7fa" stroke-width="3.2" stroke-linejoin="round">0.41</text>
<text transform="translate(639.18,448.00) rotate(0.05)" text-anchor="middle" font-size="10" font-weight="normal" textLength="21" lengthAdjust="spacing" fill="#0000ff" stroke="#0000ff" stroke-width="0.42">0.41</text>
<text transform="translate(661.08,459.00) rotate(0.05)" text-anchor="middle" font-size="10" font-weight="normal" textLength="21" lengthAdjust="spacing" fill="none" stroke="#e0f7fa" stroke-width="3.2" stroke-linejoin="round">0.08</text>
<text transform="translate(661.08,459.00) rotate(0.05)" text-anchor="middle" font-size="10" font-weight="normal" textLength="21" lengthAdjust="spacing" fill="#0000ff" stroke="#0000ff" stroke-width="0.42">0.08</text>
<text transform="translate(748.69,460.00) rotate(0.05)" text-anchor="middle" font-size="10" font-weight="normal" textLength="21" lengthAdjust="spacing" fill="none" stroke="#e0f7fa" stroke-width="3.2" stroke-linejoin="round">0.05</text>
<text transform="translate(748.69,460.00) rotate(0.05)" text-anchor="middle" font-size="10" font-weight="normal" textLength="21" lengthAdjust="spacing" fill="#0000ff" stroke="#0000ff" stroke-width="0.42">0.05</text>
<text transform="translate(770.60,461.00) rotate(0.05)" text-anchor="middle" font-size="10" font-weight="normal" textLength="21" lengthAdjust="spacing" fill="none" stroke="#e0f7fa" stroke-width="3.2" stroke-linejoin="round">0.02</text>
<text transform="translate(770.60,461.00) rotate(0.05)" text-anchor="middle" font-size="10" font-weight="normal" textLength="21" lengthAdjust="spacing" fill="#0000ff" stroke="#0000ff" stroke-width="0.42">0.02</text>
<text x="95.7" y="479.0" text-anchor="end" font-size="13" fill="#111" textLength="12.6" lengthAdjust="spacing">-2</text>
<text x="95.7" y="373.7" text-anchor="end" font-size="13" fill="#111" textLength="12.6" lengthAdjust="spacing">-1</text>
<text x="95.7" y="268.4" text-anchor="end" font-size="13" fill="#111">0</text>
<text x="95.7" y="163.1" text-anchor="end" font-size="13" fill="#111">1</text>
<text x="95.9" y="297.5" text-anchor="end" font-size="12" fill="#8b4513">-0.28</text>
<line x1="97.5" y1="293.5" x2="102" y2="293.5" stroke="#b0c4c8" stroke-opacity="0.7" stroke-width="1"/>
<text x="810.3" y="479.0" font-size="13" fill="#111">0</text>
<text x="810.3" y="443.9" font-size="13" fill="#111">1</text>
<text x="810.3" y="408.8" font-size="13" fill="#111">2</text>
<text x="810.3" y="373.7" font-size="13" fill="#111">3</text>
<text x="810.3" y="338.6" font-size="13" fill="#111">4</text>
<text x="810.3" y="303.5" font-size="13" fill="#111">5</text>
<text x="810.3" y="268.4" font-size="13" fill="#111">6</text>
<text x="810.3" y="233.3" font-size="13" fill="#111">7</text>
<text x="810.3" y="198.2" font-size="13" fill="#111">8</text>
<text x="810.3" y="163.1" font-size="13" fill="#111">9</text>
<text x="113.50" y="500.5" text-anchor="middle" font-size="13" fill="#111">30</text>
<text x="135.40" y="500.5" text-anchor="middle" font-size="13" fill="#111">1</text>
<text x="157.31" y="500.5" text-anchor="middle" font-size="13" fill="#111">2</text>
<text x="179.21" y="500.5" text-anchor="middle" font-size="13" fill="#111">3</text>
<text x="201.11" y="500.5" text-anchor="middle" font-size="13" fill="#111">4</text>
<text x="223.02" y="500.5" text-anchor="middle" font-size="13" fill="#111">5</text>
<text x="244.92" y="500.5" text-anchor="middle" font-size="13" fill="#111">6</text>
<text x="266.82" y="500.5" text-anchor="middle" font-size="13" fill="#111">7</text>
<text x="288.73" y="500.5" text-anchor="middle" font-size="13" fill="#111">8</text>
<text x="310.63" y="500.5" text-anchor="middle" font-size="13" fill="#111">9</text>
<text x="332.53" y="500.5" text-anchor="middle" font-size="13" fill="#111">10</text>
<text x="354.44" y="500.5" text-anchor="middle" font-size="13" fill="#111">11</text>
<text x="376.34" y="500.5" text-anchor="middle" font-size="13" fill="#111">12</text>
<text x="398.24" y="500.5" text-anchor="middle" font-size="13" fill="#111">13</text>
<text x="420.15" y="500.5" text-anchor="middle" font-size="13" fill="#111">14</text>
<text x="442.05" y="500.5" text-anchor="middle" font-size="13" fill="#111">15</text>
<text x="463.95" y="500.5" text-anchor="middle" font-size="13" fill="#111">16</text>
<text x="485.85" y="500.5" text-anchor="middle" font-size="13" fill="#111">17</text>
<text x="507.76" y="500.5" text-anchor="middle" font-size="13" fill="#111">18</text>
<text x="529.66" y="500.5" text-anchor="middle" font-size="13" fill="#111">19</text>
<text x="551.56" y="500.5" text-anchor="middle" font-size="13" fill="#111">20</text>
<text x="573.47" y="500.5" text-anchor="middle" font-size="13" fill="#111">21</text>
<text x="595.37" y="500.5" text-anchor="middle" font-size="13" fill="#111">22</text>
<text x="617.27" y="500.5" text-anchor="middle" font-size="13" fill="#111">23</text>
<text x="639.18" y="500.5" text-anchor="middle" font-size="13" fill="#111">24</text>
<text x="661.08" y="500.5" text-anchor="middle" font-size="13" fill="#111">25</text>
<text x="682.98" y="500.5" text-anchor="middle" font-size="13" fill="#111">26</text>
<text x="704.89" y="500.5" text-anchor="middle" font-size="13" fill="#111">27</text>
<text x="726.79" y="500.5" text-anchor="middle" font-size="13" fill="#111">28</text>
<text x="748.69" y="500.5" text-anchor="middle" font-size="13" fill="#111">29</text>
<text x="770.60" y="500.5" text-anchor="middle" font-size="13" fill="#111">30</text>
<text x="792.50" y="500.5" text-anchor="middle" font-size="13" fill="#111">31</text>
<text x="453" y="543" text-anchor="middle" font-size="15.35" fill="#222">Day of the Month</text>
<text transform="translate(43.4,327.5) rotate(-90)" text-anchor="middle" font-size="15.5" fill="#4a4a4a">Weir Height (right scale, feet)</text>
<text transform="translate(867.6,327) rotate(-90)" text-anchor="middle" font-size="14" fill="#222">Inches (or feet)</text>
</svg>
</body></html>
